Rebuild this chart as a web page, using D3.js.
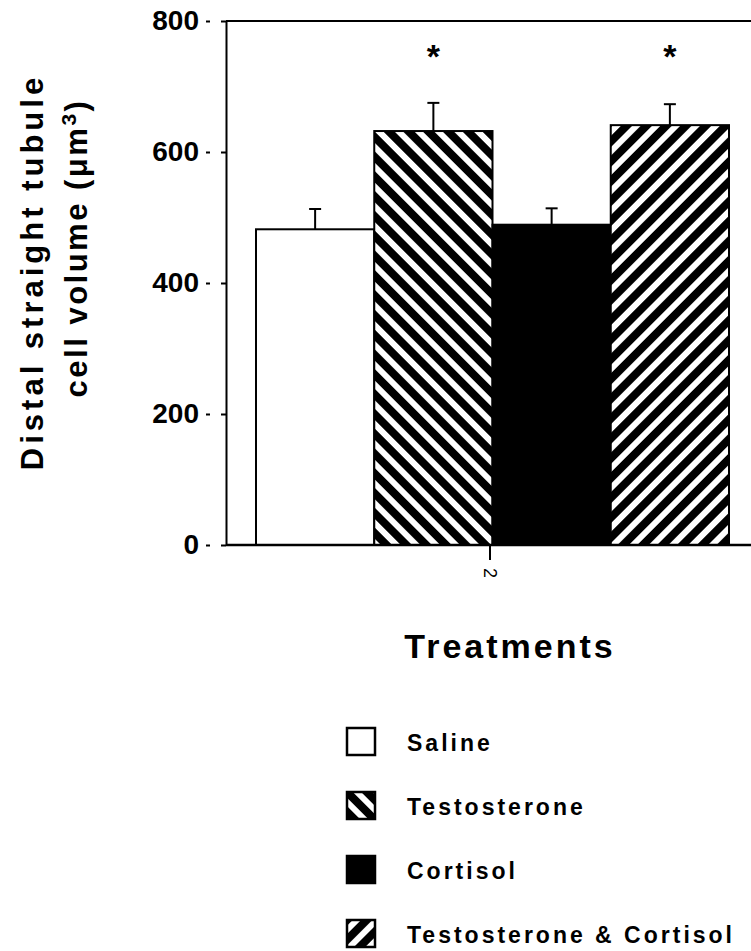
<!DOCTYPE html>
<html>
<head>
<meta charset="utf-8">
<script src="https://cdn.jsdelivr.net/npm/d3@7"></script>
<style>
  body { margin: 0; background: #fff; }
  svg { display: block; font-family: "Liberation Sans", Arial, sans-serif; }
</style>
</head>
<body>
<div id="chart"></div>
<script>
// values
var treatments = ["Saline", "Testosterone", "Cortisol", "Testosterone & Cortisol"];
var means = [482, 632, 489, 641];
var sem = [31, 43, 25, 32];
var significant = [false, true, false, true];
var yTicks = [0, 200, 400, 600, 800];
var groupLabels = ["2"];
var fills = ["#fff", "url(#hatchBack)", "#000", "url(#hatchFwd)"];

drawChart(751, 951);

function drawChart(width, height) {
  var svg = d3.select("#chart").append("svg")
      .attr("width", width)
      .attr("height", height);

  var defs = svg.append("defs");
  function hatch(id, angle) {
    var p = defs.append("pattern")
        .attr("id", id)
        .attr("patternUnits", "userSpaceOnUse")
        .attr("width", 14)
        .attr("height", 14)
        .attr("patternTransform", "rotate(" + angle + ")");
    p.append("rect").attr("width", 14).attr("height", 14).attr("fill", "#000");
    p.append("rect").attr("x", 4).attr("width", 6).attr("height", 14).attr("fill", "#fff");
  }
  hatch("hatchBack", -45);
  hatch("hatchFwd", 45);

  var plotL = 226, plotR = 751, plotT = 21, plotB = 545;

  var y = d3.scaleLinear().domain([0, 800]).range([plotB, plotT]);
  var x = d3.scaleBand().domain(treatments).range([256, 729]).padding(0);
  var xg = d3.scaleBand().domain(groupLabels).range([250, 730]);

  // top frame line
  svg.append("line")
      .attr("x1", plotL).attr("x2", plotR)
      .attr("y1", plotT).attr("y2", plotT)
      .attr("stroke", "#000").attr("stroke-width", 2);

  var data = treatments.map(function(t, i) {
    return {name: t, mean: means[i], se: sem[i], sig: significant[i], fill: fills[i]};
  });

  // bars
  svg.append("g").selectAll("rect")
    .data(data)
    .enter().append("rect")
      .attr("x", function(d) { return x(d.name); })
      .attr("y", function(d) { return y(d.mean); })
      .attr("width", x.bandwidth())
      .attr("height", function(d) { return y(0) - y(d.mean); })
      .attr("fill", function(d) { return d.fill; })
      .attr("stroke", "#000")
      .attr("stroke-width", 2);

  // upper error bars only
  var err = svg.append("g").attr("stroke", "#000").attr("stroke-width", 2);
  err.selectAll(".stem")
    .data(data)
    .enter().append("line")
      .attr("x1", function(d) { return x(d.name) + x.bandwidth() / 2; })
      .attr("x2", function(d) { return x(d.name) + x.bandwidth() / 2; })
      .attr("y1", function(d) { return y(d.mean); })
      .attr("y2", function(d) { return y(d.mean + d.se); });
  err.selectAll(".cap")
    .data(data)
    .enter().append("line")
      .attr("x1", function(d) { return x(d.name) + x.bandwidth() / 2 - 6; })
      .attr("x2", function(d) { return x(d.name) + x.bandwidth() / 2 + 6; })
      .attr("y1", function(d) { return y(d.mean + d.se); })
      .attr("y2", function(d) { return y(d.mean + d.se); });

  // asterisks
  svg.append("g").selectAll("text")
    .data(data.filter(function(d) { return d.sig; }))
    .enter().append("text")
      .attr("x", function(d) { return x(d.name) + x.bandwidth() / 2; })
      .attr("y", 68)
      .attr("text-anchor", "middle")
      .attr("font-size", 34)
      .attr("font-weight", "bold")
      .text("*");

  // y axis
  var yAxis = svg.append("g")
      .attr("transform", "translate(" + plotL + ",0)")
      .call(d3.axisLeft(y).tickValues(yTicks).tickSize(20).tickPadding(7).tickSizeOuter(0));
  yAxis.select(".domain").attr("stroke-width", 2);
  yAxis.selectAll(".tick line").attr("stroke-width", 2).attr("stroke-dasharray", "5,11,5");
  yAxis.selectAll(".tick text")
      .attr("font-size", 28)
      .attr("font-weight", "bold")
      .attr("font-family", "Liberation Sans, Arial, sans-serif")
      .attr("fill", "#000");

  // x axis
  var xAxis = svg.append("g")
      .attr("transform", "translate(0," + plotB + ")")
      .call(d3.axisBottom(xg).tickSize(15).tickSizeOuter(0));
  xAxis.select(".domain").attr("d", "M" + plotL + ",0H" + plotR).attr("stroke-width", 2.5);
  xAxis.selectAll(".tick line").attr("stroke-width", 2);
  xAxis.selectAll(".tick text")
      .attr("font-size", 18)
      .attr("font-family", "Liberation Sans, Arial, sans-serif")
      .attr("fill", "#000")
      .attr("transform", "rotate(90)")
      .attr("x", 28)
      .attr("y", 0)
      .attr("dy", "0.35em")
      .attr("text-anchor", "middle");

  // axis titles
  svg.append("text")
      .attr("transform", "translate(510,658)")
      .attr("text-anchor", "middle")
      .attr("font-size", 34)
      .attr("font-weight", "bold")
      .attr("letter-spacing", 3)
      .text("Treatments");

  svg.append("text")
      .attr("transform", "translate(43,272) rotate(-90)")
      .attr("text-anchor", "middle")
      .attr("font-size", 31)
      .attr("font-weight", "bold")
      .attr("letter-spacing", 4)
      .text("Distal straight tubule");

  var l2 = svg.append("text")
      .attr("transform", "translate(87,248) rotate(-90)")
      .attr("text-anchor", "middle")
      .attr("font-size", 31)
      .attr("font-weight", "bold")
      .attr("letter-spacing", 2.5);
  l2.append("tspan").text("cell volume (\u03bcm");
  l2.append("tspan").attr("dy", -11).attr("font-size", 21).text("3");
  l2.append("tspan").attr("dy", 11).text(")");

  // legend
  var legend = svg.append("g")
      .attr("transform", "translate(347,728)")
      .selectAll("g")
      .data(data)
      .enter().append("g")
        .attr("transform", function(d, i) { return "translate(0," + (i * 64) + ")"; });

  legend.append("rect")
      .attr("width", 28)
      .attr("height", 27)
      .attr("fill", function(d) { return d.fill; })
      .attr("stroke", "#000")
      .attr("stroke-width", 2.5);

  legend.append("text")
      .attr("x", 60)
      .attr("y", 23)
      .attr("font-size", 23)
      .attr("font-weight", "bold")
      .attr("letter-spacing", 3)
      .text(function(d) { return d.name; });
}
</script>
</body>
</html>
